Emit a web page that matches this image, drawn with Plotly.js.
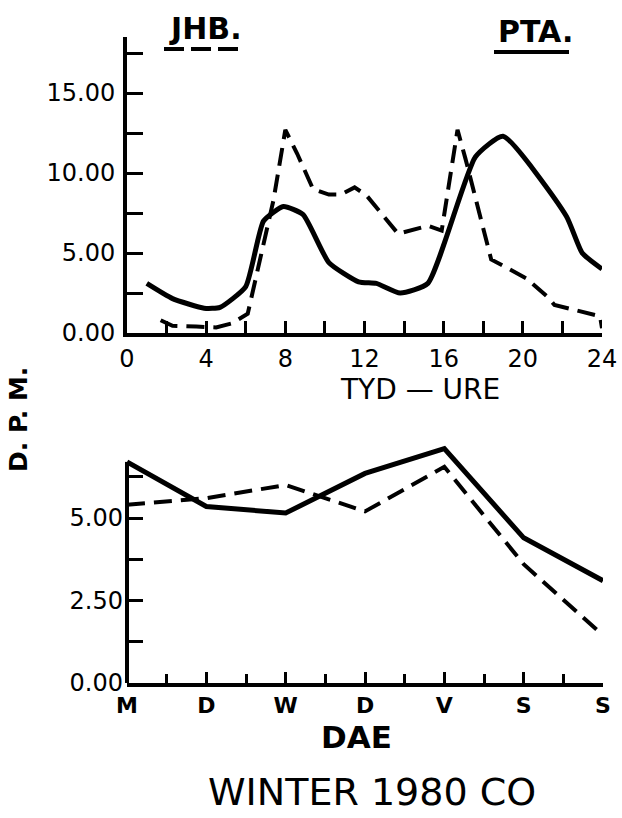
<!DOCTYPE html>
<html>
<head>
<meta charset="utf-8">
<script src="https://cdn.plot.ly/plotly-3.0.1.min.js"></script>
<style>html,body{margin:0;padding:0;background:#fff;}#chart{width:622px;height:818px;}</style>
</head>
<body>
<div id="chart"></div>
<script>
// ---- Top panel: hourly (TYD - URE) ----
const jhbHours  = [1.7, 2.3, 3.5, 4.5, 5.3, 6.1, 7.4, 8.0, 8.6, 9.4, 10.2, 10.8, 11.5, 12.1, 13.7, 15.2, 15.9, 16.7, 17.1, 18.4, 20.2, 21.3, 21.6, 23.9, 24];
const jhbHourly = [0.8, 0.45, 0.4, 0.35, 0.6, 1.2, 8.3, 12.7, 11.2, 9.0, 8.65, 8.65, 9.1, 8.6, 6.2, 6.7, 6.4, 12.7, 10.9, 4.6, 3.4, 2.2, 1.75, 1.05, 0.3];
const ptaHours  = [1, 2.3, 3.9, 4.7, 6, 6.9, 7.9, 8.9, 10.2, 11.7, 12.6, 13.8, 15.2, 17.6, 19, 22.2, 23, 24];
const ptaHourly = [3.1, 2.15, 1.55, 1.6, 2.9, 7.0, 7.9, 7.4, 4.4, 3.2, 3.1, 2.5, 3.1, 11.0, 12.3, 7.3, 5.0, 4.0];

// ---- Bottom panel: daily (DAE) ----
const dayLabels = ['M', 'D', 'W', 'D', 'V', 'S', 'S'];
const dayIndex  = [0, 1, 2, 3, 4, 5, 6];
const jhbDaily  = [5.4, 5.6, 6.0, 5.2, 6.55, 3.6, 1.45];
const ptaDaily  = [6.7, 5.35, 5.15, 6.35, 7.1, 4.4, 3.1];

const hourTicks = [0, 4, 8, 12, 16, 20, 24];
const hourTickText = ['0', '4', '8', '12', '16', '20', '24'];

const FONT = 'DejaVu Sans';
const black = '#000';

const dashStyle = {color: black, width: 4, dash: '18px,9px'};
const solidStyle = {color: black, width: 5};

const traces = [
  {x: jhbHours, y: jhbHourly, xaxis: 'x', yaxis: 'y', mode: 'lines', line: dashStyle, name: 'JHB.'},
  {x: ptaHours, y: ptaHourly, xaxis: 'x', yaxis: 'y', mode: 'lines', line: Object.assign({shape: 'spline', smoothing: 0.5}, solidStyle), name: 'PTA.'},
  {x: dayIndex, y: jhbDaily, xaxis: 'x2', yaxis: 'y2', mode: 'lines', line: dashStyle, name: 'JHB.'},
  {x: dayIndex, y: ptaDaily, xaxis: 'x2', yaxis: 'y2', mode: 'lines', line: solidStyle, name: 'PTA.'}
];

const W = 622, H = 818;
const px = v => v / W;
const py = v => 1 - v / H;

const tickFont = {family: FONT, size: 24, color: black};
const layout = {
  width: W, height: H,
  margin: {l: 0, r: 0, t: 0, b: 0},
  paper_bgcolor: '#fff', plot_bgcolor: '#fff',
  showlegend: false,
  xaxis: {
    domain: [px(127), px(602)], range: [0, 24], anchor: 'y',
    showgrid: false, zeroline: false,
    showline: true, linewidth: 4, linecolor: black,
    tickmode: 'array', tickvals: hourTicks, ticktext: hourTickText,
    ticks: 'inside', ticklen: 12, tickwidth: 3, tickcolor: black,
    minor: {dtick: 2, tick0: 0, ticks: 'inside', ticklen: 12, tickwidth: 3, tickcolor: black, showgrid: false},
    tickfont: tickFont, ticklabelstandoff: 1
  },
  yaxis: {
    domain: [py(333), py(37)], range: [0, 18.5], anchor: 'x',
    showgrid: false, zeroline: false,
    showline: true, linewidth: 4, linecolor: black,
    dtick: 5, tick0: 0, tickformat: '.2f',
    ticks: 'inside', ticklen: 16, tickwidth: 3, tickcolor: black,
    minor: {dtick: 2.5, tick0: 0, ticks: 'inside', ticklen: 16, tickwidth: 3, tickcolor: black, showgrid: false},
    tickfont: tickFont, ticklabelstandoff: 3
  },
  xaxis2: {
    domain: [px(127), px(603)], range: [0, 6], anchor: 'y2',
    showgrid: false, zeroline: false,
    showline: true, linewidth: 4, linecolor: black,
    tickmode: 'array', tickvals: dayIndex, ticktext: dayLabels,
    ticks: 'inside', ticklen: 11, tickwidth: 3, tickcolor: black,
    minor: {dtick: 0.5, tick0: 0, ticks: 'inside', ticklen: 9, tickwidth: 3, tickcolor: black, showgrid: false},
    tickfont: {family: FONT, size: 22, color: black, weight: 'bold'}, ticklabelstandoff: 0
  },
  yaxis2: {
    domain: [py(683), py(683 - 7.3 * 33)], range: [0, 7.3], anchor: 'x2',
    showgrid: false, zeroline: false,
    showline: false,
    dtick: 2.5, tick0: 0, tickformat: '.2f',
    ticks: 'inside', ticklen: 16, tickwidth: 3, tickcolor: black,
    minor: {dtick: 1.25, tick0: 0, ticks: 'inside', ticklen: 16, tickwidth: 3, tickcolor: black, showgrid: false},
    tickfont: tickFont, ticklabelstandoff: 3
  },
  shapes: [
    // bottom y axis line (ends below the data peak, as in the original)
    {type: 'line', xref: 'x2 domain', yref: 'y2', x0: 0, x1: 0, y0: 0, y1: 6.7, line: {color: black, width: 4}},
    // legend underlines
    {type: 'line', xref: 'paper', yref: 'paper', x0: px(164), x1: px(238), y0: py(49), y1: py(49), line: {color: black, width: 4, dash: '20px,7px'}},
    {type: 'line', xref: 'paper', yref: 'paper', x0: px(494), x1: px(569), y0: py(52), y1: py(52), line: {color: black, width: 4}}
  ],
  annotations: [
    {text: 'JHB.', xref: 'paper', yref: 'paper', x: px(205), y: py(28), showarrow: false, font: {family: FONT, size: 30, color: black, weight: 'bold'}, xanchor: 'center', yanchor: 'middle'},
    {text: 'PTA.', xref: 'paper', yref: 'paper', x: px(535), y: py(31), showarrow: false, font: {family: FONT, size: 30, color: black, weight: 'bold'}, xanchor: 'center', yanchor: 'middle'},
    {text: 'TYD — URE', xref: 'paper', yref: 'paper', x: px(420), y: py(390), showarrow: false, font: {family: FONT, size: 28, color: black}, xanchor: 'center', yanchor: 'middle'},
    {text: 'D. P. M.', xref: 'paper', yref: 'paper', x: px(18), y: py(420), showarrow: false, textangle: -90, font: {family: FONT, size: 25, color: black, weight: 'bold'}, xanchor: 'center', yanchor: 'middle'},
    {text: 'DAE', xref: 'paper', yref: 'paper', x: px(356), y: py(737), showarrow: false, font: {family: FONT, size: 31, color: black, weight: 'bold'}, xanchor: 'center', yanchor: 'middle'},
    {text: 'WINTER 1980 CO', xref: 'paper', yref: 'paper', x: px(372), y: py(792), showarrow: false, font: {family: FONT, size: 38, color: black}, xanchor: 'center', yanchor: 'middle'}
  ]
};

Plotly.newPlot('chart', traces, layout, {displayModeBar: false, staticPlot: true});
</script>
</body>
</html>
